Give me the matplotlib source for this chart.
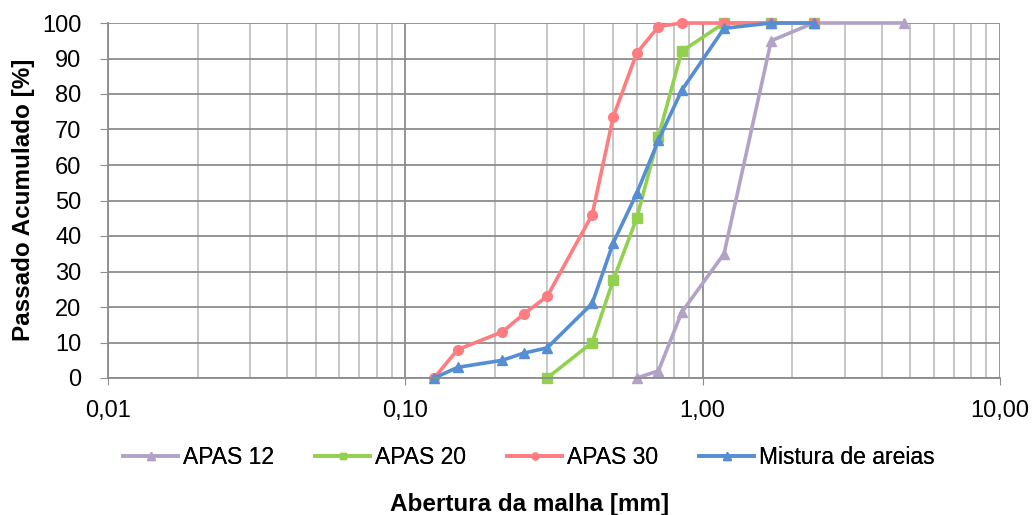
import matplotlib
matplotlib.use("Agg")
import matplotlib.pyplot as plt
from matplotlib import font_manager
from matplotlib.ticker import FixedLocator, LogLocator, NullFormatter

names = {f.name for f in font_manager.fontManager.ttflist}
narrow = 'Liberation Sans Narrow' if 'Liberation Sans Narrow' in names else 'Liberation Sans'
plt.rcParams['font.family'] = ['Liberation Sans', 'DejaVu Sans']

apas12_x = [0.60, 0.71, 0.85, 1.18, 1.70, 2.36, 4.75]
apas12_y = [0, 2, 18.5, 35, 95, 100, 100]

apas20_x = [0.30, 0.425, 0.50, 0.60, 0.71, 0.85, 1.18, 1.70, 2.36]
apas20_y = [0, 10, 27.5, 45, 68, 92, 100, 100, 100]

apas30_x = [0.125, 0.15, 0.212, 0.25, 0.30, 0.425, 0.50, 0.60, 0.71, 0.85, 1.18, 1.70, 2.36]
apas30_y = [0, 8, 13, 18, 23, 46, 73.5, 91.5, 99, 100, 100, 100, 100]

mist_x = [0.125, 0.15, 0.212, 0.25, 0.30, 0.425, 0.50, 0.60, 0.71, 0.85, 1.18, 1.70, 2.36]
mist_y = [0, 3, 5, 7, 8.5, 21, 38, 52, 67, 81, 98.5, 100, 100]

x_ticks = [0.01, 0.1, 1, 10]
x_labels = ["0,01", "0,10", "1,00", "10,00"]
y_ticks = list(range(0, 101, 10))

fig = plt.figure(figsize=(10.32, 5.15), dpi=100)
ax = fig.add_axes([108/1032, 1-378/515, (1000-108)/1032, (378-23)/515])

ax.set_xscale('log')
ax.set_xlim(0.01, 10)
ax.set_ylim(0, 100)

ax.xaxis.set_major_locator(FixedLocator(x_ticks))
ax.set_xticklabels(x_labels)
ax.xaxis.set_minor_locator(LogLocator(base=10, subs=range(2, 10)))
ax.xaxis.set_minor_formatter(NullFormatter())
ax.set_yticks(y_ticks)

ax.grid(True, which='major', axis='both', color='#8c8c8c', linewidth=1.3)
ax.grid(True, which='minor', axis='x', color='#b8b8b8', linewidth=1.1)
ax.set_axisbelow(True)

for s in ['top', 'right']:
    ax.spines[s].set_visible(False)
for s in ['left', 'bottom']:
    ax.spines[s].set_color('#8c8c8c')
    ax.spines[s].set_linewidth(1.3)
ax.tick_params(axis='y', which='major', direction='out', length=6, color='#8c8c8c', pad=13)
ax.tick_params(axis='x', which='major', direction='out', length=5, color='#8c8c8c', pad=11)
ax.tick_params(axis='x', which='minor', length=0)
for lab in ax.get_xticklabels() + ax.get_yticklabels():
    lab.set_fontfamily(narrow)
    lab.set_fontsize(17)

lw = 2.6
series = [
    (apas12_x, apas12_y, '#B3A2C7', '^', 7.5, 'APAS 12'),
    (apas20_x, apas20_y, '#92D050', 's', 6.5, 'APAS 20'),
    (apas30_x, apas30_y, '#FF7C80', 'o', 7.0, 'APAS 30'),
    (mist_x, mist_y, '#558ED5', '^', 7.5, 'Mistura de areias'),
]
handles = []
for xs, ys, c, m, ms, lab in series:
    h, = ax.plot(xs, ys, color=c, marker=m, lw=lw, ms=ms, label=lab, clip_on=False)
    handles.append(h)

fig.text(24/1032, 1-200/515, 'Passado Acumulado [%]', fontsize=17.5, fontweight='bold',
         rotation=90, ha='center', va='center')
fig.text(530/1032, 1-504/515, 'Abertura da malha [mm]', fontsize=17.5, fontweight='bold',
         ha='center', va='center')

leg_x = [123, 315, 507, 699]
for h, lx in zip(handles, leg_x):
    lg = fig.legend(handles=[h], loc='center left', bbox_to_anchor=(lx/1032, 1-458/515),
                    bbox_transform=fig.transFigure, frameon=False, borderpad=0, borderaxespad=0,
                    handlelength=2.4, handletextpad=0.2, markerscale=0.7,
                    prop={'family': narrow, 'size': 16.5})
    fig.add_artist(lg)

fig.savefig('out.png', dpi=100)
